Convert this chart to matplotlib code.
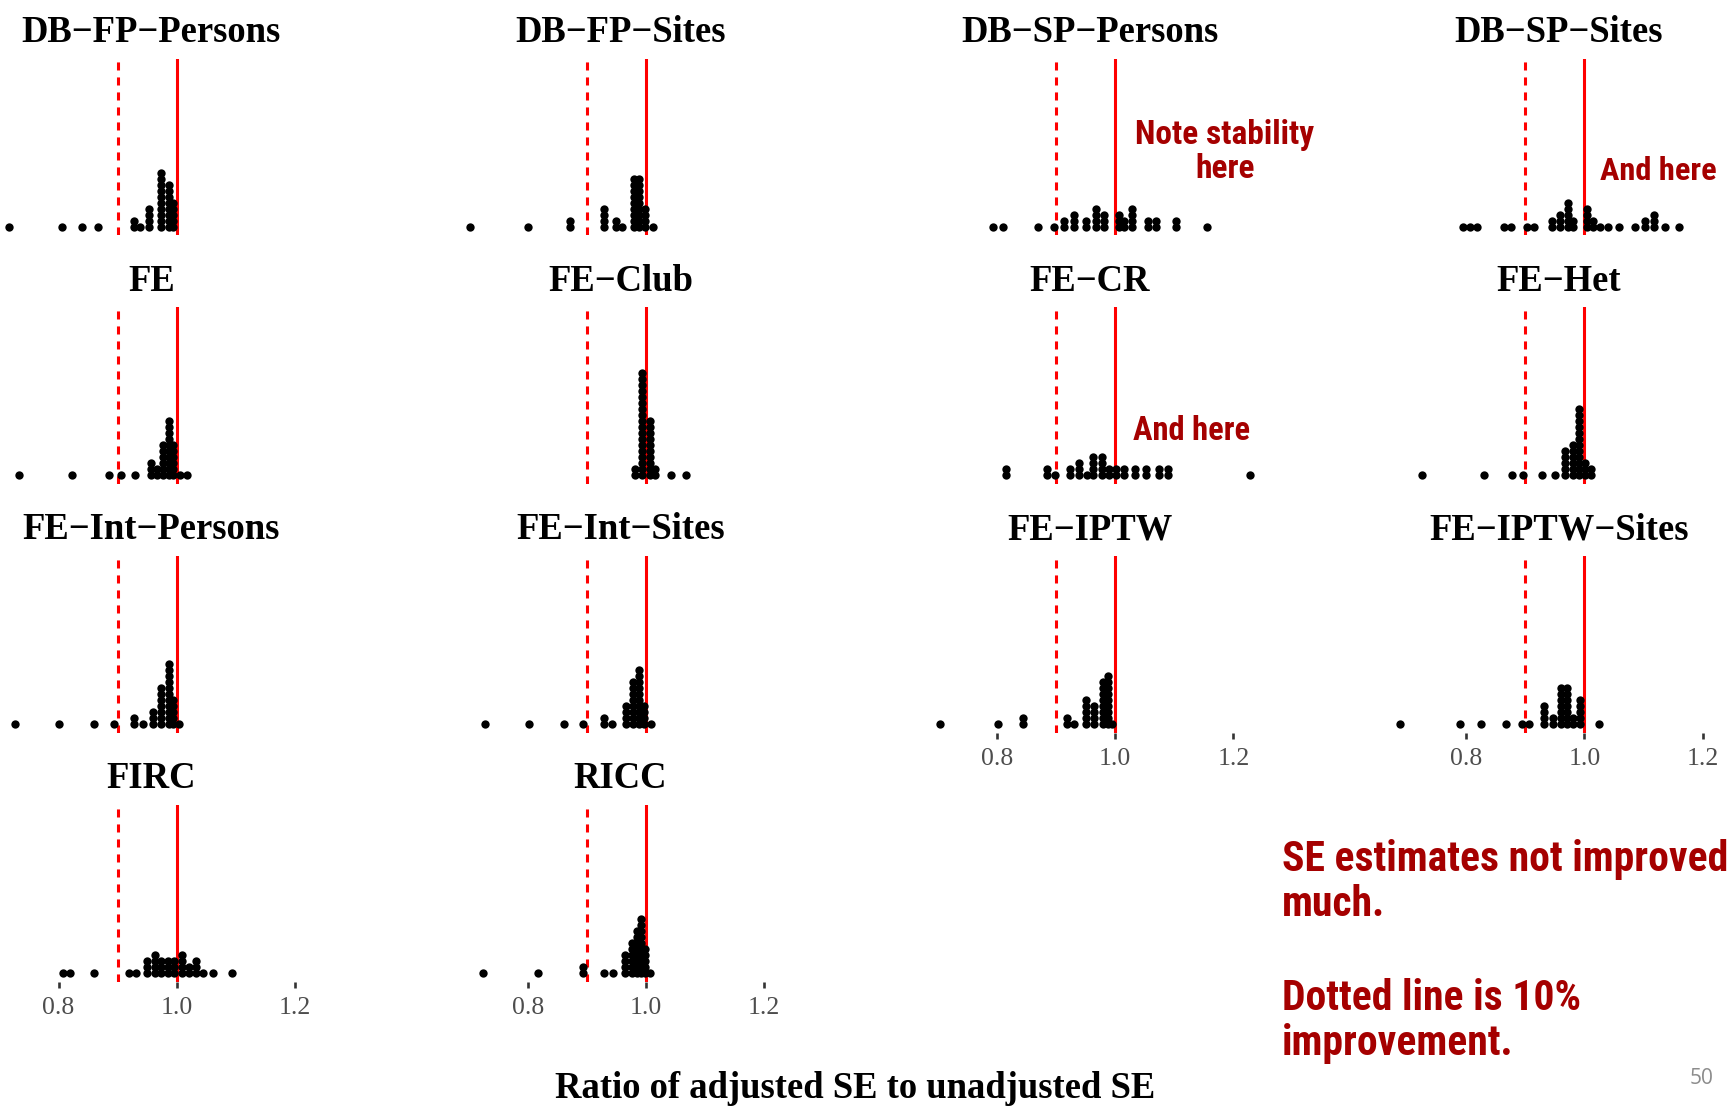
import matplotlib
matplotlib.use("Agg")
import matplotlib.pyplot as plt

W, H, DPI = 1733, 1111, 100

# dot-stack centres (ratio of adjusted to unadjusted SE) and dots per stack
db_fp_persons_x = [0.716, 0.806, 0.840, 0.867, 0.928, 0.938, 0.953, 0.974, 0.986, 0.993]
db_fp_persons_n = [1, 1, 1, 1, 2, 1, 4, 10, 8, 5]

db_fp_sites_x = [0.702, 0.800, 0.871, 0.929, 0.949, 0.959, 0.979, 0.989, 0.999, 1.012]
db_fp_sites_n = [1, 1, 2, 4, 2, 1, 9, 9, 4, 1]

db_sp_persons_x = [0.794, 0.811, 0.870, 0.896, 0.914, 0.931, 0.950, 0.967, 0.981,
                   1.007, 1.015, 1.028, 1.055, 1.069, 1.103, 1.156]
db_sp_persons_n = [1, 1, 1, 1, 2, 3, 2, 4, 3, 3, 2, 4, 2, 2, 2, 1]

db_sp_sites_x = [0.795, 0.807, 0.819, 0.864, 0.876, 0.903, 0.915, 0.945, 0.959, 0.972,
                 0.980, 1.004, 1.014, 1.027, 1.040, 1.059, 1.086, 1.103, 1.118, 1.136, 1.160]
db_sp_sites_n = [1, 1, 1, 1, 1, 1, 1, 2, 3, 5, 2, 4, 2, 1, 1, 1, 1, 2, 3, 1, 1]

fe_x = [0.733, 0.823, 0.885, 0.906, 0.930, 0.956, 0.966, 0.976, 0.987, 0.994, 1.005, 1.017]
fe_n = [1, 1, 1, 1, 1, 3, 2, 6, 10, 6, 1, 1]

fe_club_x = [0.981, 0.994, 1.006, 1.016, 1.043, 1.068]
fe_club_n = [2, 18, 10, 2, 1, 1]

fe_cr_x = [0.815, 0.885, 0.898, 0.923, 0.939, 0.952, 0.963, 0.977, 0.989, 1.002,
           1.015, 1.033, 1.052, 1.074, 1.090, 1.228]
fe_cr_n = [2, 2, 1, 2, 3, 1, 4, 4, 2, 2, 2, 2, 2, 2, 2, 1]

fe_het_x = [0.725, 0.831, 0.878, 0.897, 0.929, 0.950, 0.967, 0.980, 0.991, 1.001, 1.011]
fe_het_n = [1, 1, 1, 1, 1, 1, 5, 6, 12, 3, 2]

fe_int_persons_x = [0.726, 0.801, 0.860, 0.894, 0.928, 0.942, 0.959, 0.974, 0.987, 0.994, 1.004]
fe_int_persons_n = [1, 1, 1, 1, 2, 1, 3, 7, 11, 5, 1]

fe_int_sites_x = [0.728, 0.802, 0.861, 0.894, 0.929, 0.943, 0.967, 0.978, 0.989, 0.996, 1.008]
fe_int_sites_n = [1, 1, 1, 1, 2, 1, 4, 8, 10, 4, 1]

fe_iptw_x = [0.703, 0.801, 0.844, 0.918, 0.931, 0.950, 0.964, 0.979, 0.988, 0.994]
fe_iptw_n = [1, 1, 2, 2, 1, 5, 4, 8, 9, 1]

fe_iptw_sites_x = [0.688, 0.790, 0.825, 0.867, 0.894, 0.906, 0.931, 0.947, 0.961,
                   0.970, 0.980, 0.992, 1.025]
fe_iptw_sites_n = [1, 1, 1, 1, 1, 1, 4, 2, 7, 7, 2, 5, 1]

firc_x = [0.807, 0.819, 0.860, 0.920, 0.931, 0.950, 0.963, 0.974, 0.985, 0.996,
          1.009, 1.021, 1.032, 1.045, 1.062, 1.093]
firc_n = [1, 1, 1, 1, 1, 3, 4, 3, 3, 3, 4, 2, 3, 1, 1, 1]

ricc_x = [0.725, 0.817, 0.893, 0.929, 0.944, 0.964, 0.976, 0.985, 0.991, 0.998, 1.007]
ricc_n = [1, 1, 2, 1, 1, 4, 6, 8, 10, 5, 1]

titles = ["DB\u2212FP\u2212Persons", "DB\u2212FP\u2212Sites", "DB\u2212SP\u2212Persons",
          "DB\u2212SP\u2212Sites", "FE", "FE\u2212Club", "FE\u2212CR", "FE\u2212Het",
          "FE\u2212Int\u2212Persons", "FE\u2212Int\u2212Sites", "FE\u2212IPTW",
          "FE\u2212IPTW\u2212Sites", "FIRC", "RICC"]
stacks = [(db_fp_persons_x, db_fp_persons_n), (db_fp_sites_x, db_fp_sites_n),
          (db_sp_persons_x, db_sp_persons_n), (db_sp_sites_x, db_sp_sites_n),
          (fe_x, fe_n), (fe_club_x, fe_club_n), (fe_cr_x, fe_cr_n), (fe_het_x, fe_het_n),
          (fe_int_persons_x, fe_int_persons_n), (fe_int_sites_x, fe_int_sites_n),
          (fe_iptw_x, fe_iptw_n), (fe_iptw_sites_x, fe_iptw_sites_n),
          (firc_x, firc_n), (ricc_x, ricc_n)]
xticks = [0.8, 1.0, 1.2]

SERIF = ["Liberation Serif", "DejaVu Serif"]
NOTE_RED = "#a50000"
XMIN, XMAX = 0.659, 1.255
PX_PER_UNIT = 591.3
STEP = 6.0          # vertical pixels between stacked dots

plt.rcParams["lines.scale_dashes"] = False
fig = plt.figure(figsize=(W / DPI, H / DPI), dpi=DPI)


def px_box(left, top, width, height):
    return [left / W, 1 - (top + height) / H, width / W, height / H]


for i, (title, (xs, ns)) in enumerate(zip(titles, stacks)):
    row, col = divmod(i, 4)
    one_px = 176.8 + col * 469.2
    left = one_px - (1.0 - XMIN) * PX_PER_UNIT
    top = 58.6 + row * 248.7
    ax = fig.add_axes(px_box(left, top, (XMAX - XMIN) * PX_PER_UNIT, 176.8))
    ax.set_xlim(XMIN, XMAX)
    ax.set_ylim(-8.7, 168.1)
    ax.patch.set_alpha(0)
    for s in ax.spines.values():
        s.set_visible(False)

    ax.axvline(1.0, color="#ff0000", lw=2.2, zorder=1)
    ax.axvline(0.9, color="#ff0000", lw=2.2, dashes=(5.8, 5.0), zorder=1)

    for x, n in zip(xs, ns):
        ax.scatter([x] * n, [k * STEP for k in range(n)], s=36, c="black",
                   linewidths=0, zorder=3)

    ax.set_title(title, fontfamily=SERIF, fontweight="bold", fontsize=26.4, pad=12)
    ax.set_yticks([])
    if i + 4 >= len(titles):
        ax.set_xticks(xticks)
        ax.set_xticklabels([f"{t:.1f}" for t in xticks], fontfamily=SERIF,
                           fontsize=18.5, color="#4d4d4d")
        ax.tick_params(axis="x", length=4, width=1.9, color="#333333", pad=7)
    else:
        ax.set_xticks([])


def fx(px):
    return px / W


def fy(py):
    return 1 - py / H


note_font = dict(family=["Liberation Sans Narrow", "Roboto Condensed", "DejaVu Sans"],
                 fontweight="bold", color=NOTE_RED)
renderer = fig.canvas.get_renderer()


def note_lines(x, ys, lines, ha, width_px, max_size):
    # size the block so its first line spans the width seen in the slide
    texts = [fig.text(fx(x), fy(y), s, ha=ha, va="center", fontsize=20, **note_font)
             for y, s in zip(ys, lines)]
    w = texts[0].get_window_extent(renderer).width
    size = min(20 * width_px / w, max_size)
    for t in texts:
        t.set_fontsize(size)


note_lines(1225, [135, 169], ["Note stability", "here"], "center", 179, 24)
note_lines(1600, [171], ["And here"], "left", 116, 24)
note_lines(1133, [431], ["And here"], "left", 117, 24)
note_lines(1282, [860, 905, 998, 1043],
           ["SE estimates not improved", "much.", "Dotted line is 10%", "improvement."],
           "left", 444, 31)

fig.text(fx(855), fy(1088), "Ratio of adjusted SE to unadjusted SE", ha="center",
         va="center", fontfamily=SERIF, fontweight="bold", fontsize=26.4)
fig.text(fx(1702), fy(1079), "50", ha="center", va="center", fontsize=15,
         color="#8c8c8c", family=["Open Sans", "DejaVu Sans"])

fig.savefig("out.png", dpi=DPI, facecolor="white")
